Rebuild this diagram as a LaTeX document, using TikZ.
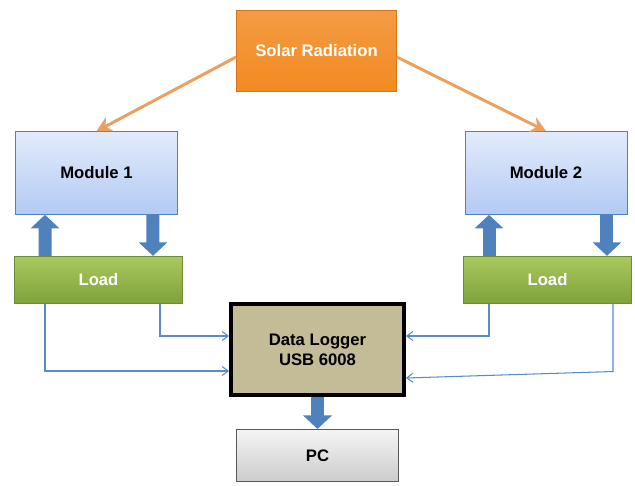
\documentclass[tikz,border=0pt]{standalone}
\usepackage{fontspec}
\setmainfont{Liberation Sans}
\usepackage{tikz}
\usetikzlibrary{arrows.meta,positioning,calc}

\definecolor{sunorange}{HTML}{F28A22}
\definecolor{sunedge}{HTML}{D9731A}
\definecolor{sunline}{HTML}{EBA060}
\definecolor{modtop}{HTML}{E2EBFB}
\definecolor{modbot}{HTML}{B3CAF3}
\definecolor{modedge}{HTML}{4F81BD}
\definecolor{loadtop}{HTML}{A9C95F}
\definecolor{loadbot}{HTML}{7FA23A}
\definecolor{loadedge}{HTML}{6E8A3A}
\definecolor{loggerfill}{HTML}{C4BC96}
\definecolor{fatblue}{HTML}{4F81BD}
\definecolor{wireblue}{HTML}{5B8BC6}

\begin{document}
\begin{tikzpicture}[
    x=0.02cm, y=-0.02cm,
    node distance=0.82cm,
    every node/.style={font=\fontsize{9.5}{11.5}\selectfont\bfseries},
    sun/.style={rectangle, draw=sunedge, top color=sunorange!85!white, bottom color=sunorange, text=white, minimum width=3.2cm, minimum height=1.62cm},
    module/.style={rectangle, draw=modedge, top color=modtop, bottom color=modbot, minimum width=3.24cm, minimum height=1.66cm},
    load/.style={rectangle, draw=loadedge, top color=loadtop, bottom color=loadbot, text=white, minimum width=3.36cm, minimum height=0.94cm},
    logger/.style={rectangle, draw=black, line width=0.08cm, fill=loggerfill, align=center, minimum width=3.46cm, minimum height=1.82cm},
    pcbox/.style={rectangle, draw=black!65, top color=black!4, bottom color=black!20, minimum width=3.24cm, minimum height=1.04cm},
    sunray/.style={-{Stealth[length=0.3cm, width=0.32cm]}, line width=0.06cm, sunline},
    fatarrow/.style={-{Triangle[length=0.27cm, width=0.56cm]}, line width=0.26cm, fatblue},
    wire/.style={-{Straight Barb[length=0.12cm, width=0.18cm]}, line width=0.6pt, wireblue}
]
    \useasboundingbox (0,0) rectangle (635,486);

    % Source
    \node[sun] (sun) at (316.5,51) {Solar Radiation};

    % Modules and loads
    \node[module] (m1) at (96.5,173) {Module 1};
    \node[module] (m2) at (546,173) {Module 2};
    \node[load, below=of m1, xshift=0.04cm] (ld1) {Load};
    \node[load, below=of m2, xshift=0.03cm] (ld2) {Load};

    % Logger and PC
    \node[logger] (dl) at (317.5,349.5) {Data Logger\\USB 6008};
    \node[pcbox, below=0.64cm of dl] (pc) {PC};

    % Radiation
    \draw[sunray] ([yshift=-0.12cm]sun.west) -- (m1.north);
    \draw[sunray] ([yshift=-0.12cm]sun.east) -- (m2.north);

    % Module <-> load
    \draw[fatarrow] ([xshift=-1.07cm]ld1.north) -- ([xshift=-1.03cm]m1.south);
    \draw[fatarrow] ([xshift=1.13cm]m1.south) -- ([xshift=1.09cm]ld1.north);
    \draw[fatarrow] ([xshift=-1.17cm]ld2.north) -- ([xshift=-1.14cm]m2.south);
    \draw[fatarrow] ([xshift=1.22cm]m2.south) -- ([xshift=1.19cm]ld2.north);

    % Measurement wires
    \draw[wire] ([xshift=1.23cm]ld1.south) |- ([yshift=0.27cm]dl.west);
    \draw[wire] ([xshift=-1.07cm]ld1.south) |- ([yshift=-0.43cm]dl.west);
    \draw[wire] ([xshift=-1.17cm]ld2.south) |- ([yshift=0.27cm]dl.east);
    \draw[wire] ([xshift=1.31cm]ld2.south) -- ++(0,-1.36cm) -- ([yshift=-0.57cm]dl.east);

    % Logger to PC
    \draw[fatarrow] (dl.south) -- (pc.north);
\end{tikzpicture}
\end{document}
